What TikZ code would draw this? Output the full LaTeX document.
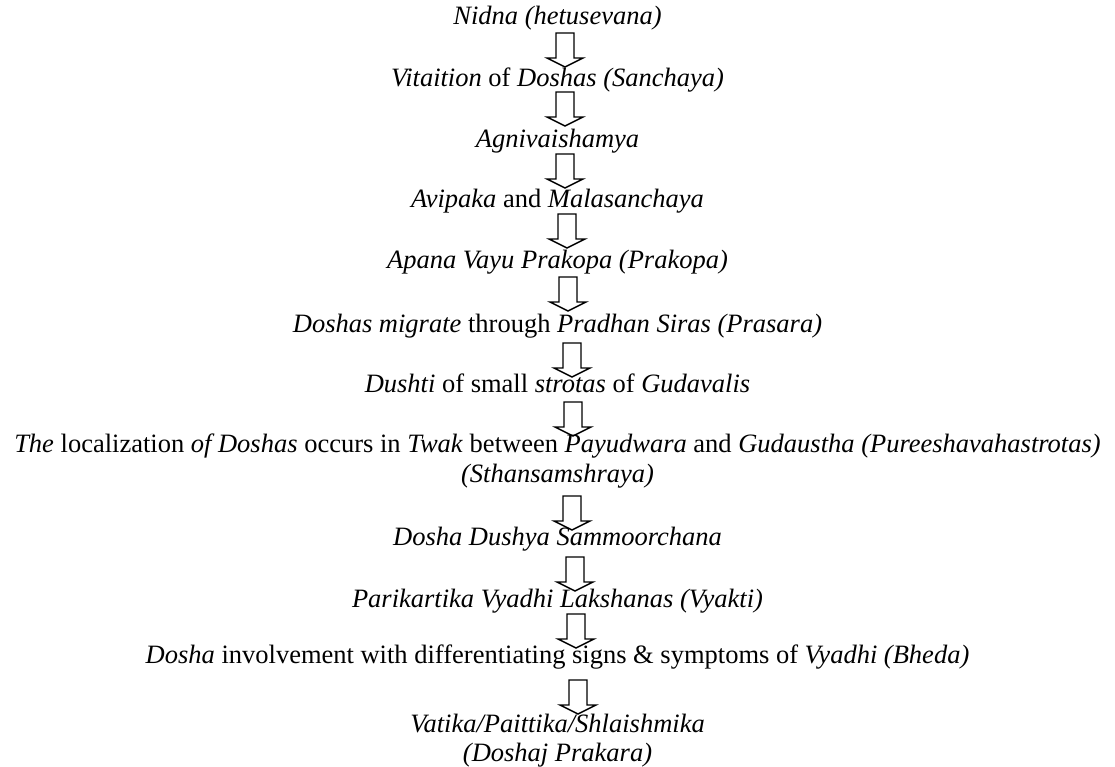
\documentclass[tikz,border=0pt]{standalone}
\usepackage{fontspec}
\setmainfont{Liberation Serif}
\begin{document}
\begin{tikzpicture}[x=1pt,y=-1pt,
  lbl/.style={anchor=base,inner sep=0pt,font=\fontsize{26.5}{30}\selectfont},
  arrowshape/.style={draw=black,fill=white,line width=1.4pt,line join=miter},
  pics/downarrow/.style={code={
    \draw[arrowshape] (-9,0) -- (9,0) -- (9,25) -- (18,25) -- (0,34) -- (-18,25) -- (-9,25) -- cycle;
  }}]
\useasboundingbox (0,0) rectangle (1115,767);
% arrows (drawn first, text on top)
\coordinate (a1) at (565,33);
\coordinate (a2) at (565,92);
\coordinate (a3) at (565,154);
\coordinate (a4) at (567,214);
\coordinate (a5) at (568,277);
\coordinate (a6) at (572,343);
\coordinate (a7) at (573,402);
\coordinate (a8) at (572,496);
\coordinate (a9) at (575,557);
\coordinate (a10) at (576,614);
\coordinate (a11) at (578,680);
\foreach \a in {a1,a2,a3,a4,a5,a6,a7,a8,a9,a10,a11} {\pic at (\a) {downarrow};}
% texts
\node[lbl] (n1) at (557.5,25) {\textit{Nidna (hetusevana)}};
\node[lbl] (n2) at (557.5,87) {\textit{Vitaition} of \textit{Doshas (Sanchaya)}};
\node[lbl] (n3) at (557.5,148) {\textit{Agnivaishamya}};
\node[lbl] (n4) at (557.5,208) {\textit{Avipaka} and \textit{Malasanchaya}};
\node[lbl] (n5) at (557.5,268) {\textit{Apana Vayu Prakopa (Prakopa)}};
\node[lbl] (n6) at (557.5,332) {\textit{Doshas migrate} through \textit{Pradhan Siras (Prasara)}};
\node[lbl] (n7) at (557.5,392) {\textit{Dushti} of small \textit{strotas} of \textit{Gudavalis}};
\node[lbl] (n8) at (557.5,452) {\textit{The} localization \textit{of Doshas} occurs in \textit{Twak} between \textit{Payudwara} and \textit{Gudaustha (Pureeshavahastrotas)}};
\node[lbl] (n8b) at (557.5,482) {\textit{(Sthansamshraya)}};
\node[lbl] (n9) at (557.5,545) {\textit{Dosha Dushya Sammoorchana}};
\node[lbl] (n10) at (557.5,607) {\textit{Parikartika Vyadhi Lakshanas (Vyakti)}};
\node[lbl] (n11) at (557.5,663) {\textit{Dosha} involvement with differentiating signs \& symptoms of \textit{Vyadhi (Bheda)}};
\node[lbl] (n12) at (557.5,732) {\textit{Vatika/Paittika/Shlaishmika}};
\node[lbl] (n12b) at (557.5,761) {\textit{(Doshaj Prakara)}};
\end{tikzpicture}
\end{document}
